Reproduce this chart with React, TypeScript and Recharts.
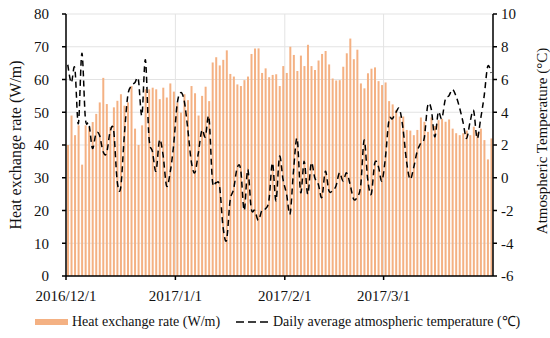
import React from 'react';
import { ComposedChart, Bar, Line, XAxis, YAxis, CartesianGrid, Legend, Label } from 'recharts';

const heatRate: number[] = [
  40, 49, 43, 46, 34, 46, 45.5, 47, 49.5, 53,
  60.5, 52.5, 45.5, 51.5, 53.5, 55.5, 52, 53, 58, 45,
  40, 46, 57, 57, 57.5, 57, 54, 57.5, 54.5, 58.8,
  56.3, 53, 49.9, 55.5, 53.7, 58, 55.8, 49, 55, 57.8,
  53.4, 65.2, 66.8, 64.3, 66, 68.9, 61.7, 60.9, 58.5, 58,
  59.8, 60.9, 67.8, 69.5, 69.5, 62, 63.4, 60.7, 61.4, 61.6,
  58, 64.1, 62, 70, 67.5, 62.6, 67.3, 64.1, 70.6, 64.1,
  62.9, 65.8, 67.8, 68.7, 64.6, 60.3, 59.7, 59.8, 63.9, 68,
  72.5, 66.2, 69.1, 58.8, 57.3, 61.9, 63.3, 63.7, 59.5, 58.3,
  59.1, 53.4, 52.4, 50.7, 48.7, 48.7, 44.6, 44.4, 43, 44.6,
  48.4, 47.1, 44, 48.4, 45.8, 47.6, 48, 47.1, 47.8, 45,
  43.6, 43, 43.6, 44.4, 43, 45.6, 43.8, 45, 41.5, 35.6,
  42,
];

const temperature: number[] = [
  6.9, 5.8, 6.7, 3.3, 7.6, 3.6, 3.3, 1.8, 2.7, 2.6,
  1.6, 1.5, 2.8, 2.9, -0.2, -0.6, 2.5, 5.0, 5.6, 5.8,
  6.0, 3.8, 7.2, 2.5, 1.6, 0.4, 2.3, 1.4, -0.5, 0.3,
  2.0, 4.5, 5.2, 4.7, 3.0, 1.0, 0.3, 1.5, 2.9, 2.5,
  3.7, -0.2, -0.3, -0.5, -3.0, -3.8, -1.4, -0.7, 0.6, 0.5,
  -2.0, 0.5, -1.9, -2.0, -2.6, -2.0, -1.9, -1.4, 0.9, -1.4,
  1.3, -0.1, -1.0, -2.2, 0.5, 2.4, -0.9, 1.0, -1.0, 0.9,
  0.0, -0.4, -1.2, 0.4, -0.8, -0.8, -0.5, 0.3, -0.2, 0.3,
  -0.4, -1.3, -1.2, -0.5, 2.3, -0.1, -1.0, 0.9, 0.7, -0.2,
  1.2, 3.5, 3.6, 4.0, 4.2, 3.0, 1.0, -0.1, 0.6, 1.6,
  2.1, 2.4, 4.4, 4.2, 2.5, 4.0, 3.6, 4.8, 5.0, 5.4,
  5.0, 4.3, 3.4, 2.4, 3.4, 4.1, 2.4, 3.6, 5.0, 6.8,
  6.4,
];

// day offsets (from 2016/12/1) of the date tick marks and their labels
const dateTickDays: number[] = [0, 31, 62, 90];
const dateTickLabels: string[] = ['2016/12/1', '2017/1/1', '2017/2/1', '2017/3/1'];
const totalDays = 121;

const leftTicks: number[] = [0, 10, 20, 30, 40, 50, 60, 70, 80];
const rightTicks: number[] = [-6, -4, -2, 0, 2, 4, 6, 8, 10];

const data = heatRate.map((v, i) => ({ day: i + 0.5, heat: v, temp: temperature[i] }));

const BAR_COLOR = '#F4B183';
const FONT = '"Liberation Serif", "Times New Roman", serif';
const TEXT = '#111';

// Catmull-Rom style smoothing (similar to a spreadsheet "smoothed line")
const smoothCurve: any = (context: any) => {
  let pts: number[][] = [];
  return {
    areaStart() {},
    areaEnd() {},
    lineStart() {
      pts = [];
    },
    point(x: number, y: number) {
      pts.push([+x, +y]);
    },
    lineEnd() {
      if (!pts.length) return;
      context.moveTo(pts[0][0], pts[0][1]);
      for (let i = 0; i < pts.length - 1; i++) {
        const p0 = pts[i - 1] || pts[i];
        const p1 = pts[i];
        const p2 = pts[i + 1];
        const p3 = pts[i + 2] || pts[i + 1];
        const c1x = p1[0] + (p2[0] - p0[0]) / 6;
        const c1y = p1[1] + (p2[1] - p0[1]) / 6;
        const c2x = p2[0] - (p3[0] - p1[0]) / 6;
        const c2y = p2[1] - (p3[1] - p1[1]) / 6;
        context.bezierCurveTo(c1x, c1y, c2x, c2y, p2[0], p2[1]);
      }
    },
  };
};

const renderLegend = () => (
  <div style={{ position: 'relative', width: 550, height: 30, fontFamily: FONT, fontSize: 14, color: TEXT }}>
    <div style={{ position: 'absolute', left: 35, top: 11, width: 33, height: 6, background: BAR_COLOR }} />
    <span style={{ position: 'absolute', left: 72, top: 6, lineHeight: '16px', whiteSpace: 'nowrap' }}>
      Heat exchange rate (W/m)
    </span>
    <svg style={{ position: 'absolute', left: 236, top: 10 }} width={34} height={8}>
      <line x1={0} y1={4} x2={33} y2={4} stroke="#000" strokeWidth={1.6} strokeDasharray="8 4" />
    </svg>
    <span style={{ position: 'absolute', left: 273, top: 6, lineHeight: '16px', whiteSpace: 'nowrap' }}>
      Daily average atmospheric temperature (℃)
    </span>
  </div>
);

export default function App() {
  return (
    <div style={{ position: 'absolute', left: 0, top: 0 }}>
      <ComposedChart
        width={550}
        height={338}
        data={data}
        margin={{ top: 14, right: 0, bottom: 0, left: 0 }}
      >
        <CartesianGrid yAxisId="left" stroke="#E3E3E3" strokeWidth={1} />
        <XAxis
          dataKey="day"
          type="number"
          domain={[0, totalDays]}
          ticks={dateTickDays}
          tickFormatter={(v: number) => dateTickLabels[dateTickDays.indexOf(v)] ?? ''}
          height={32}
          tickSize={4}
          tickMargin={10}
          axisLine={{ stroke: '#000', strokeWidth: 1.5 }}
          tickLine={{ stroke: '#000', strokeWidth: 1.5 }}
          tick={{ fill: TEXT, fontSize: 15, fontFamily: FONT }}
          allowDataOverflow
        />
        <YAxis
          yAxisId="left"
          domain={[0, 80]}
          ticks={leftTicks}
          width={66}
          tickSize={4}
          tickMargin={13}
          axisLine={{ stroke: '#000', strokeWidth: 1.5 }}
          tickLine={{ stroke: '#000', strokeWidth: 1.5 }}
          tick={{ fill: TEXT, fontSize: 15, fontFamily: FONT }}
        >
          <Label
            value="Heat exchange rate (W/m)"
            angle={-90}
            position="center"
            dx={-18}
            style={{ fill: TEXT, fontSize: 16, fontFamily: FONT, textAnchor: 'middle' }}
          />
        </YAxis>
        <YAxis
          yAxisId="right"
          orientation="right"
          domain={[-6, 10]}
          ticks={rightTicks}
          width={57}
          tickSize={4}
          tickMargin={4}
          axisLine={{ stroke: '#000', strokeWidth: 1.5 }}
          tickLine={{ stroke: '#000', strokeWidth: 1.5 }}
          tick={{ fill: TEXT, fontSize: 15, fontFamily: FONT }}
        >
          <Label
            value="Atmospheric Temperature (°C)"
            angle={-90}
            position="center"
            dx={20}
            dy={-4}
            style={{ fill: TEXT, fontSize: 15, fontFamily: FONT, textAnchor: 'middle' }}
          />
        </YAxis>
        <Legend
          verticalAlign="bottom"
          height={30}
          content={renderLegend}
          wrapperStyle={{ left: 0, bottom: 0, width: 550, height: 30 }}
        />
        <Bar
          yAxisId="left"
          dataKey="heat"
          fill={BAR_COLOR}
          barSize={2}
          isAnimationActive={false}
        />
        <Line
          yAxisId="right"
          dataKey="temp"
          type={smoothCurve}
          stroke="#000"
          strokeWidth={1.5}
          strokeDasharray="6 4"
          dot={false}
          activeDot={false}
          isAnimationActive={false}
        />
      </ComposedChart>
    </div>
  );
}
